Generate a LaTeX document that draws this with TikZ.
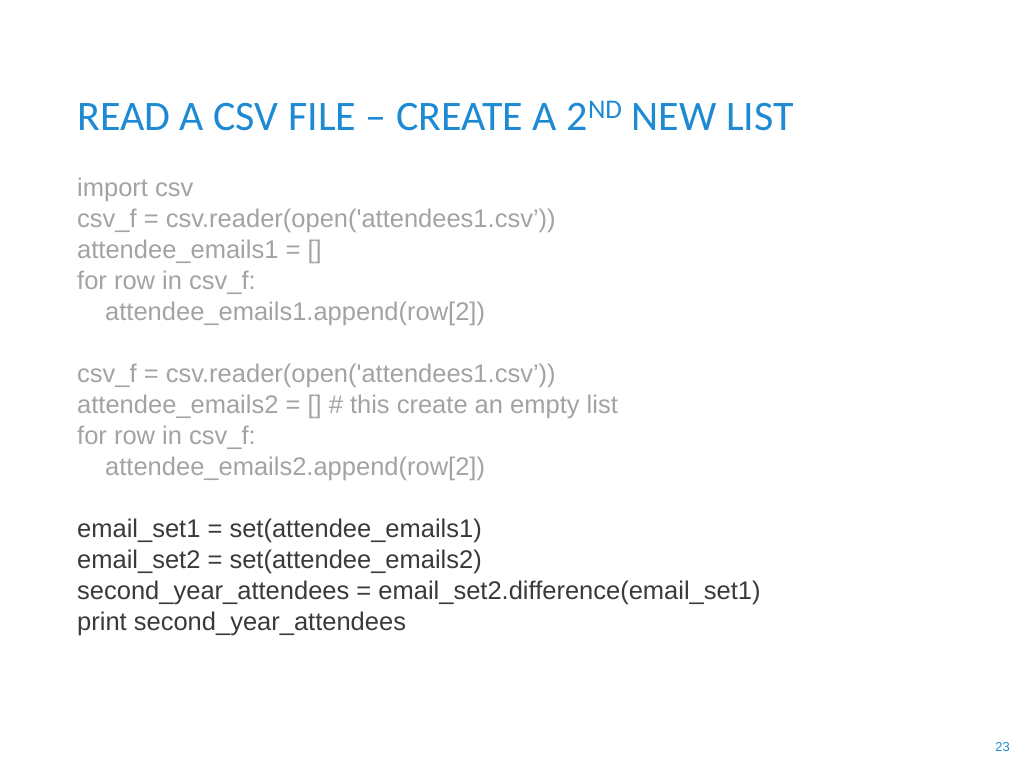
\documentclass[tikz,border=0pt]{standalone}
\usepackage{fontspec}
\setmainfont{Liberation Sans}
\newfontfamily\titlefont{Carlito}
\definecolor{tblue}{HTML}{1E8AD3}
\definecolor{lgray}{HTML}{A3A3A3}
\definecolor{dgray}{HTML}{3A3A3A}
\newcommand{\sq}{\textquotesingle}
\begin{document}
\begin{tikzpicture}[x=1pt,y=1pt,
  code/.style={anchor=base west,inner sep=0pt,font=\fontsize{25.5}{30}\selectfont},
  lg/.style={code,text=lgray},
  dg/.style={code,text=dgray}]
\useasboundingbox (0,0) rectangle (1024,-768);
\fill[white] (0,0) rectangle (1024,-768);
\node[anchor=base west,inner sep=0pt,text=tblue,font=\titlefont\fontsize{42}{48}\selectfont] (title) at (77,-130)
  {READ A CSV FILE – CREATE A 2\raisebox{12pt}{\fontsize{27}{30}\selectfont ND} NEW LIST};
\node[lg] (l1) at (77,-196) {import csv};
\node[lg] (l2) at (77,-227) {csv\_f = csv.reader(open(\sq attendees1.csv’))};
\node[lg] (l3) at (77,-258) {attendee\_emails1 = []};
\node[lg] (l4) at (77,-289) {for row in csv\_f:};
\node[lg] (l5) at (105,-320) {attendee\_emails1.append(row[2])};
\node[lg] (l6) at (77,-382) {csv\_f = csv.reader(open(\sq attendees1.csv’))};
\node[lg] (l7) at (77,-413) {attendee\_emails2 = [] \# this create an empty list};
\node[lg] (l8) at (77,-444) {for row in csv\_f:};
\node[lg] (l9) at (105,-475) {attendee\_emails2.append(row[2])};
\node[dg] (m1) at (77,-537) {email\_set1 = set(attendee\_emails1)};
\node[dg] (m2) at (77,-568) {email\_set2 = set(attendee\_emails2)};
\node[dg] (m3) at (77,-599) {second\_year\_attendees = email\_set2.difference(email\_set1)};
\node[dg] (m4) at (77,-630) {print second\_year\_attendees};
\node[anchor=base east,inner sep=0pt,text=tblue,font=\fontsize{13}{15}\selectfont] (pg) at (1010,-751) {23};
\end{tikzpicture}
\end{document}
